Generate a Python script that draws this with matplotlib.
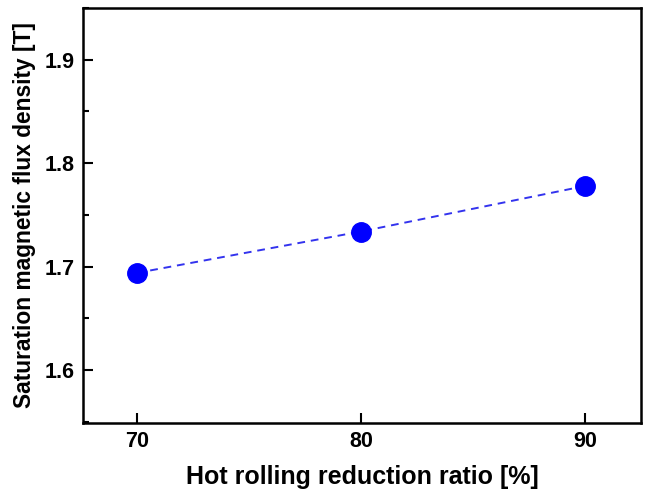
import matplotlib
matplotlib.use('Agg')
import matplotlib.pyplot as plt
from matplotlib.ticker import MultipleLocator

# data
reduction_ratio = [70, 80, 90]
flux_density = [1.694, 1.734, 1.778]

plt.rcParams['font.family'] = ['Liberation Sans', 'DejaVu Sans']
plt.rcParams['font.weight'] = 'bold'

fig = plt.figure(figsize=(6.53, 4.93), dpi=100)
ax = fig.add_axes([83 / 653, 1 - 423 / 493, (641 - 83) / 653, (423 - 8) / 493])

ax.plot(reduction_ratio, flux_density, linestyle='--', color='#3333ee', linewidth=1.4,
        dashes=(4, 3), marker='o', markersize=14, markerfacecolor='#0000ff',
        markeredgecolor='#0000ff')

ax.set_xlim(67.6, 92.5)
ax.set_ylim(1.549, 1.950)
ax.xaxis.set_major_locator(MultipleLocator(10))
ax.yaxis.set_major_locator(MultipleLocator(0.1))
ax.yaxis.set_minor_locator(MultipleLocator(0.05))

ax.tick_params(which='both', direction='in', top=False, right=False, width=1.5,
               labelsize=15.5, pad=6)
ax.tick_params(which='major', length=7)
ax.tick_params(which='minor', length=4)
for s in ax.spines.values():
    s.set_linewidth(1.8)

ax.set_xlabel('Hot rolling reduction ratio [%]', fontsize=18, fontweight='bold', labelpad=9)
ax.set_ylabel('Saturation magnetic flux density [T]', fontsize=16.4, fontweight='bold', labelpad=6)

fig.savefig('out.png', dpi=100)
